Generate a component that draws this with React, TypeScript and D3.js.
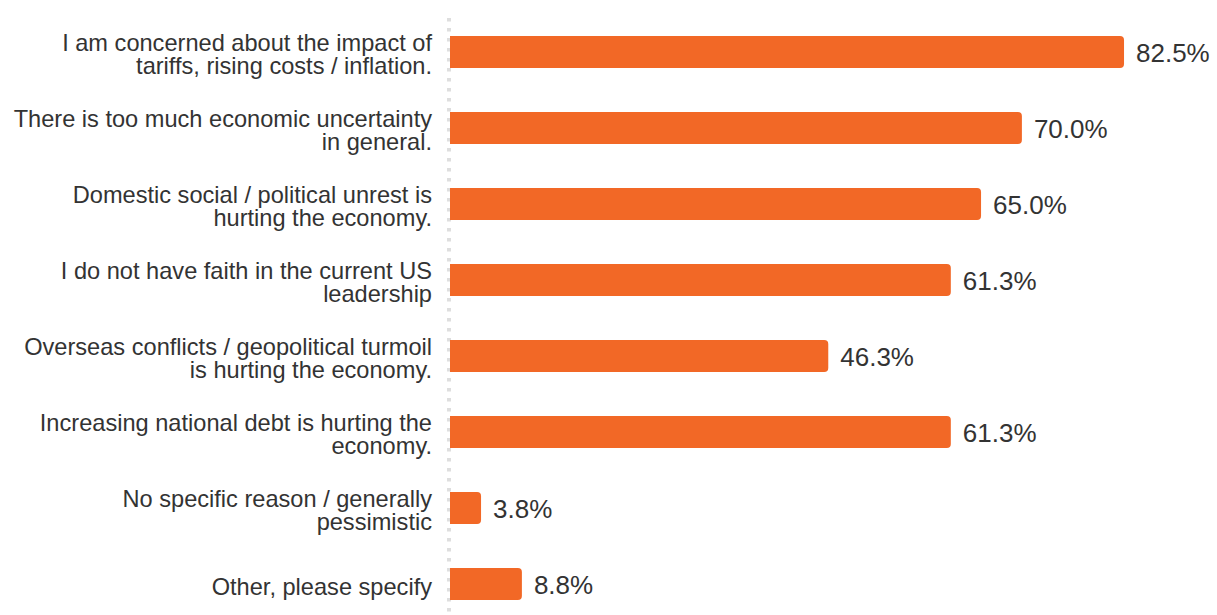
import React from "react";
import * as d3 from "d3";

const categories: string[][] = [
  ["I am concerned about the impact of", "tariffs, rising costs / inflation."],
  ["There is too much economic uncertainty", "in general."],
  ["Domestic social / political unrest is", "hurting the economy."],
  ["I do not have faith in the current US", "leadership"],
  ["Overseas conflicts / geopolitical turmoil", "is hurting the economy."],
  ["Increasing national debt is hurting the", "economy."],
  ["No specific reason / generally", "pessimistic"],
  ["Other, please specify"],
];
const values: number[] = [82.5, 70.0, 65.0, 61.3, 46.3, 61.3, 3.8, 8.8];
const valueLabels: string[] = ["82.5%", "70.0%", "65.0%", "61.3%", "46.3%", "61.3%", "3.8%", "8.8%"];

const W = 1217;
const H = 615;
const BAR_COLOR = "#f26826";
const TEXT_COLOR = "#333333";
const FONT = "Arial, 'Liberation Sans', Helvetica, sans-serif";

export default function App() {
  const keys = categories.map((_, i) => String(i));
  const y = d3.scalePoint<string>().domain(keys).range([52, 584]);
  const x = d3.scaleLinear().domain([0, 100]).range([450, 1267]);
  const barH = 32;
  const r = 4;

  const barPath = (v: number, cy: number) => {
    const x0 = x(0);
    const x1 = x(v);
    const y0 = cy - barH / 2;
    const y1 = cy + barH / 2;
    const rr = Math.min(r, (x1 - x0) / 2);
    const p = d3.path();
    p.moveTo(x0, y0);
    p.lineTo(x1 - rr, y0);
    p.quadraticCurveTo(x1, y0, x1, y0 + rr);
    p.lineTo(x1, y1 - rr);
    p.quadraticCurveTo(x1, y1, x1 - rr, y1);
    p.lineTo(x0, y1);
    p.closePath();
    return p.toString();
  };

  const labelSize = 23.6;
  const valueSize = 26;
  const lineH = 23.5;

  return (
    <svg
      width={W}
      height={H}
      style={{ position: "absolute", left: 0, top: 0, background: "#fff" }}
      fontFamily={FONT}
    >
      <line
        x1={449}
        x2={449}
        y1={18}
        y2={H}
        stroke="#dedede"
        strokeWidth={4}
        strokeDasharray="3.5 6.5"
      />
      {categories.map((lines, i) => {
        const cy = y(String(i)) as number;
        const n = lines.length;
        return (
          <g key={i}>
            <path d={barPath(values[i], cy)} fill={BAR_COLOR} />
            <text
              x={x(values[i]) + 12}
              y={cy + 9.5}
              fontSize={valueSize}
              fill={TEXT_COLOR}
            >
              {valueLabels[i]}
            </text>
            {lines.map((ln, j) => (
              <text
                key={j}
                x={432}
                y={cy + 10.5 + (j - (n - 1) / 2) * lineH}
                fontSize={labelSize}
                fill={TEXT_COLOR}
                textAnchor="end"
              >
                {ln}
              </text>
            ))}
          </g>
        );
      })}
    </svg>
  );
}
